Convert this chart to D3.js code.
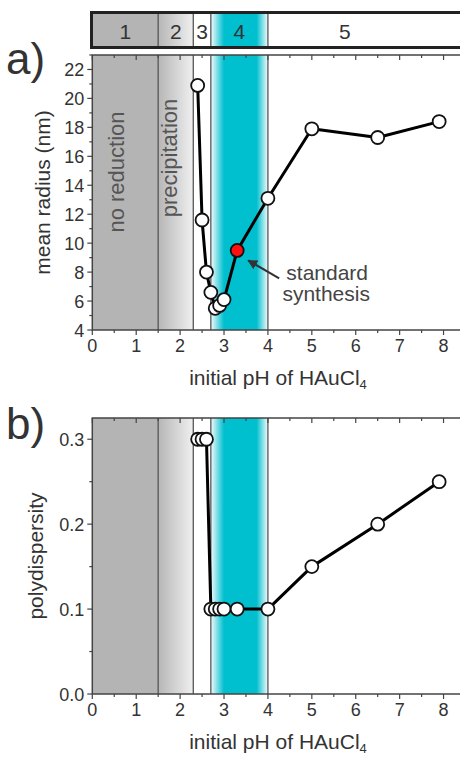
<!DOCTYPE html>
<html><head><meta charset="utf-8">
<script src="https://cdn.jsdelivr.net/npm/d3@7"></script>
<style>body{margin:0;background:#fff}svg{display:block;font-family:"Liberation Sans",Arial,sans-serif}</style>
</head><body><svg id="c" width="460" height="758"></svg>
<script>
// ---- data ----
const phA = [2.4, 2.5, 2.6, 2.7, 2.8, 2.9, 3.0, 3.3, 4.0, 5.0, 6.5, 7.9];
const radius = [20.9, 11.6, 8.0, 6.6, 5.5, 5.7, 6.1, 9.5, 13.1, 17.9, 17.3, 18.4];
const phB = [2.4, 2.5, 2.6, 2.7, 2.8, 2.9, 3.0, 3.3, 4.0, 5.0, 6.5, 7.9];
const polyd = [0.3, 0.3, 0.3, 0.1, 0.1, 0.1, 0.1, 0.1, 0.1, 0.15, 0.2, 0.25];
const standardPH = 3.3;
const regionEdges = [0, 1.5, 2.3, 2.7, 4.0, 8.5];
const regionLabels = ["1", "2", "3", "4", "5"];
const regionLabelPos = [0.75, 1.9, 2.5, 3.35, 5.75];
const xTicks = [0, 1, 2, 3, 4, 5, 6, 7, 8];
const yTicksA = [4, 6, 8, 10, 12, 14, 16, 18, 20, 22];
const yTicksB = [0.0, 0.1, 0.2, 0.3];

const svg = d3.select("#c");
const defs = svg.append("defs");
const x = d3.scaleLinear().domain([0, 8.5]).range([92.3, 465.5]);
const textCol = "#333";
const frameCol = "#444";

function grad(id, stops) {
  const g = defs.append("linearGradient").attr("id", id).attr("x1", 0).attr("x2", 1).attr("y1", 0).attr("y2", 0);
  stops.forEach(s => g.append("stop").attr("offset", s[0]).attr("stop-color", s[1]));
}
grad("g2", [[0, "#b6b6b6"], [1, "#f0f0f0"]]);
grad("g4", [[0, "#f2fbfc"], [0.23, "#00bfcf"], [0.8, "#00bfcf"], [1, "#f2fbfc"]]);
const fills = ["#b4b4b4", "url(#g2)", "#ffffff", "url(#g4)", "#ffffff"];

function regions(g, y0, y1) {
  for (let i = 0; i < 5; i++) {
    g.append("rect").attr("x", x(regionEdges[i])).attr("y", y0)
      .attr("width", x(regionEdges[i + 1]) - x(regionEdges[i])).attr("height", y1 - y0)
      .attr("fill", fills[i]);
  }
  [1, 2, 3, 4].forEach(i => {
    g.append("line").attr("x1", x(regionEdges[i])).attr("x2", x(regionEdges[i]))
      .attr("y1", y0).attr("y2", y1).attr("stroke", "#555").attr("stroke-width", 1.3);
  });
}

// ---- top bar ----
const bar = svg.append("g");
regions(bar, 12.5, 47.5);
bar.append("rect").attr("x", 91.5).attr("y", 12.5).attr("width", 400).attr("height", 35)
  .attr("fill", "none").attr("stroke", "#222").attr("stroke-width", 3);
regionLabels.forEach((t, i) => {
  bar.append("text").attr("x", x(regionLabelPos[i])).attr("y", 39).attr("text-anchor", "middle")
    .attr("font-size", 21).attr("fill", textCol).text(t);
});

function panel(opts) {
  const {y, top, bottom, xs, ys, yTicks, minorStep, fmt, ylabel, letter, letterY, ylabelX} = opts;
  const g = svg.append("g");
  regions(g, top, bottom);
  g.append("rect").attr("x", x(0)).attr("y", top).attr("width", 420).attr("height", bottom - top)
    .attr("fill", "none").attr("stroke", frameCol).attr("stroke-width", 1.5);
  const xMinor = d3.range(0, 8.51, 0.5);
  xMinor.forEach(v => {
    const major = Math.abs(v - Math.round(v)) < 1e-6;
    const L = major ? 5 : 3;
    g.append("line").attr("x1", x(v)).attr("x2", x(v)).attr("y1", bottom).attr("y2", bottom + L)
      .attr("stroke", frameCol).attr("stroke-width", 1.2);
    g.append("line").attr("x1", x(v)).attr("x2", x(v)).attr("y1", top).attr("y2", top + L)
      .attr("stroke", frameCol).attr("stroke-width", 1.2);
  });
  xTicks.forEach(v => {
    g.append("text").attr("x", x(v)).attr("y", bottom + 22).attr("text-anchor", "middle")
      .attr("font-size", 18).attr("fill", textCol).text(v);
  });
  const yMin = d3.range(y.domain()[0], y.domain()[1] + 1e-9, minorStep);
  yMin.forEach(v => {
    const major = yTicks.some(t => Math.abs(t - v) < 1e-6);
    const L = major ? 5 : 3;
    g.append("line").attr("x1", x(0) - L).attr("x2", x(0)).attr("y1", y(v)).attr("y2", y(v))
      .attr("stroke", frameCol).attr("stroke-width", 1.2);
  });
  yTicks.forEach(v => {
    g.append("text").attr("x", x(0) - 8).attr("y", y(v) + 6.5).attr("text-anchor", "end")
      .attr("font-size", 18).attr("fill", textCol).text(fmt(v));
  });
  g.append("text").attr("transform", `translate(${ylabelX},${(top + bottom) / 2}) rotate(-90)`)
    .attr("text-anchor", "middle").attr("font-size", 21).attr("fill", textCol).text(ylabel);
  const xt = g.append("text").attr("x", 278).attr("y", bottom + 55).attr("text-anchor", "middle")
    .attr("font-size", 21).attr("fill", textCol);
  xt.append("tspan").text("initial pH of HAuCl");
  xt.append("tspan").attr("font-size", 13).attr("dy", 4).text("4");
  g.append("text").attr("x", 6).attr("y", letterY).attr("font-size", 44).attr("fill", textCol).text(letter);
  const pts = xs.map((v, i) => [v, ys[i]]);
  g.append("path").datum(pts)
    .attr("d", d3.line().x(d => x(d[0])).y(d => y(d[1])))
    .attr("fill", "none").attr("stroke", "#000").attr("stroke-width", 3).attr("stroke-linejoin", "round");
  return {g, pts};
}

// ---- panel a ----
const yA = d3.scaleLinear().domain([4, 23]).range([330, 55]);
const pa = panel({y: yA, top: 55, bottom: 330, xs: phA, ys: radius, yTicks: yTicksA, minorStep: 1,
  fmt: d => d, ylabel: "mean radius (nm)", letter: "a)", letterY: 74, ylabelX: 50});
pa.g.append("text").attr("transform", `translate(${x(0.72)},172) rotate(-90)`).attr("text-anchor", "middle")
  .attr("font-size", 22).attr("fill", "#555").text("no reduction");
pa.g.append("text").attr("transform", `translate(${x(1.93)},158) rotate(-90)`).attr("text-anchor", "middle")
  .attr("font-size", 22).attr("fill", "#555").text("precipitation");
const sx = x(standardPH), sy = yA(radius[phA.indexOf(standardPH)]);
defs.append("marker").attr("id", "ah").attr("viewBox", "0 0 10 10").attr("refX", 9).attr("refY", 5)
  .attr("markerWidth", 5).attr("markerHeight", 5).attr("orient", "auto")
  .append("path").attr("d", "M0,0L10,5L0,10z").attr("fill", "#333");
pa.g.append("line").attr("x1", sx + 42).attr("y1", sy + 28).attr("x2", sx + 11).attr("y2", sy + 10)
  .attr("stroke", "#333").attr("stroke-width", 2).attr("marker-end", "url(#ah)");
pa.g.append("text").attr("x", sx + 90).attr("y", sy + 30).attr("text-anchor", "middle")
  .attr("font-size", 21).attr("fill", "#444").text("standard");
pa.g.append("text").attr("x", sx + 89).attr("y", sy + 51).attr("text-anchor", "middle")
  .attr("font-size", 21).attr("fill", "#444").text("synthesis");
pa.g.selectAll("circle").data(pa.pts).join("circle")
  .attr("cx", d => x(d[0])).attr("cy", d => yA(d[1])).attr("r", 6.5)
  .attr("fill", d => d[0] === standardPH ? "#ff1010" : "#fff").attr("stroke", "#111").attr("stroke-width", 1.8);

// ---- panel b ----
const yB = d3.scaleLinear().domain([0, 0.325]).range([694, 418]);
const pb = panel({y: yB, top: 418, bottom: 694, xs: phB, ys: polyd, yTicks: yTicksB, minorStep: 0.05,
  fmt: d => d.toFixed(1), ylabel: "polydispersity", letter: "b)", letterY: 439, ylabelX: 43});
pb.g.selectAll("circle").data(pb.pts).join("circle")
  .attr("cx", d => x(d[0])).attr("cy", d => yB(d[1])).attr("r", 6.5)
  .attr("fill", "#fff").attr("stroke", "#111").attr("stroke-width", 1.8);
</script></body></html>
